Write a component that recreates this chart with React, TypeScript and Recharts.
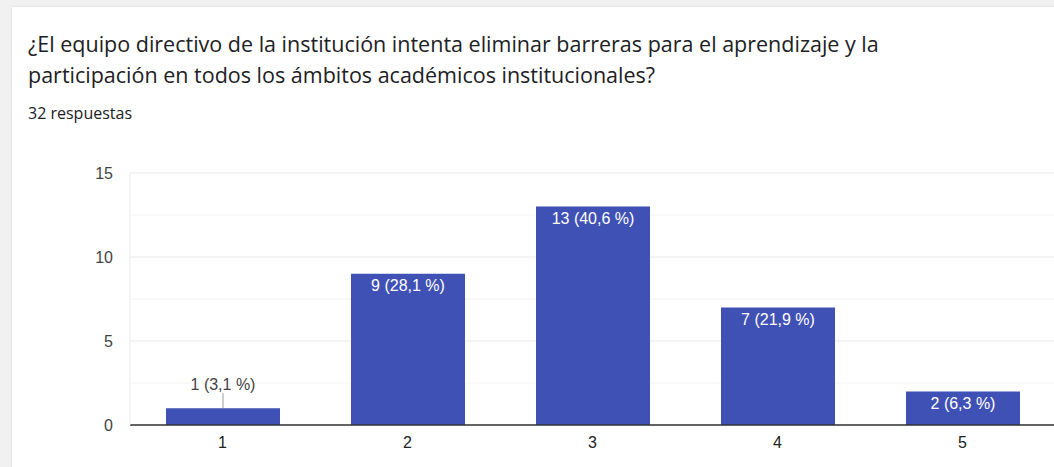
import React from "react";
import {
  BarChart,
  Bar,
  XAxis,
  YAxis,
  CartesianGrid,
  LabelList,
} from "recharts";

// ── Data ──────────────────────────────────────────────────────────────────────

const categories = ["1", "2", "3", "4", "5"];
const counts = [1, 9, 13, 7, 2];
const percentLabels = ["3,1", "28,1", "40,6", "21,9", "6,3"];
const yTicks = [0, 5, 10, 15];
const minorGrid = [2.5, 7.5, 12.5];

const titleLines = [
  "¿El equipo directivo de la institución intenta eliminar barreras para el aprendizaje y la",
  "participación en todos los ámbitos académicos institucionales?",
];
const responses = "32 respuestas";

const data = categories.map((c, i) => ({ name: c, value: counts[i], pct: percentLabels[i] }));

const BAR = "#3f51b5";
const FONT = "Arial, 'Liberation Sans', sans-serif";
const HEAD_FONT = "'Open Sans', Roboto, sans-serif";

// ── Bar label: inside when it fits, above with a leader line otherwise ─────────

function BarLabel(props: any) {
  const { x, y, width, height, value, index } = props;
  const text = `${value} (${percentLabels[index]} %)`;
  const cx = x + width / 2;
  if (height < 24) {
    return (
      <g>
        <line x1={cx} x2={cx} y1={y - 15} y2={y} stroke="#9e9e9e" strokeWidth={1} />
        <text x={cx} y={y - 24} textAnchor="middle" dominantBaseline="central" fill="#444" fontSize={16} fontFamily={FONT}>
          {text}
        </text>
      </g>
    );
  }
  return (
    <text x={cx} y={y + 12} textAnchor="middle" dominantBaseline="central" fill="#fff" fontSize={16} fontFamily={FONT}>
      {text}
    </text>
  );
}

// ── Main ──────────────────────────────────────────────────────────────────────

export default function App() {
  return (
    <div style={{ position: "relative", width: 1054, height: 467, overflow: "hidden", background: "#f1f1f1" }}>
      <style>{`body{margin:0}`}</style>
      {/* Card */}
      <div
        style={{
          position: "absolute",
          left: 12,
          top: 7,
          width: 1100,
          height: 500,
          background: "#fff",
          boxShadow: "0 0 2px rgba(0,0,0,0.12)",
        }}
      />
      {/* Header */}
      <div
        style={{
          position: "absolute",
          left: 28,
          top: 28,
          whiteSpace: "nowrap",
          fontFamily: HEAD_FONT,
          fontSize: 21.5,
          lineHeight: "31px",
          color: "#202124",
        }}
      >
        {titleLines.map(l => (
          <div key={l}>{l}</div>
        ))}
      </div>
      <div
        style={{
          position: "absolute",
          left: 28,
          top: 103,
          fontFamily: HEAD_FONT,
          fontSize: 16,
          lineHeight: "20px",
          color: "#202124",
        }}
      >
        {responses}
      </div>

      {/* Chart */}
      <div style={{ position: "absolute", left: 0, top: 0 }}>
        <BarChart
          width={1070}
          height={467}
          data={data}
          margin={{ top: 173, right: 15, left: 80, bottom: 12 }}
        >
          <CartesianGrid horizontalValues={minorGrid} vertical={false} stroke="#f4f4f4" />
          <CartesianGrid vertical={false} stroke="#e8e8e8" />
          <XAxis
            dataKey="name"
            height={30}
            tickLine={false}
            tickSize={0}
            tickMargin={12}
            axisLine={{ stroke: "#333", strokeWidth: 1.3 }}
            tick={{ fill: "#222", fontSize: 16, fontFamily: FONT }}
          />
          <YAxis
            width={50}
            domain={[0, 15]}
            ticks={yTicks}
            interval={0}
            tickLine={false}
            tickSize={0}
            tickMargin={17}
            axisLine={{ stroke: "#ececec" }}
            tick={{ fill: "#444", fontSize: 16, fontFamily: FONT }}
          />
          <Bar dataKey="value" fill={BAR} barSize={114} isAnimationActive={false}>
            <LabelList dataKey="value" content={<BarLabel />} />
          </Bar>
        </BarChart>
      </div>
    </div>
  );
}
